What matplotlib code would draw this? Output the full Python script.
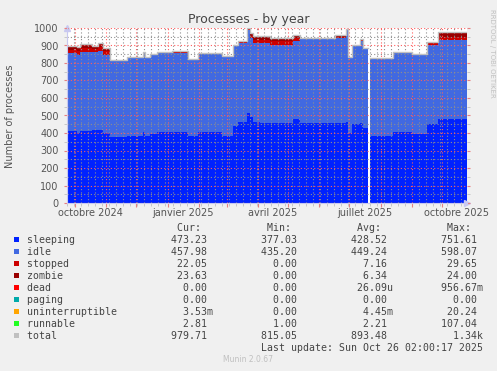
import numpy as np
import matplotlib
matplotlib.use('Agg')
import matplotlib.pyplot as plt
import matplotlib.dates as mdates
import matplotlib.transforms as mtrans

# ---------------- data ----------------
start_date = '2024-09-23'
end_date = '2025-10-26'
# segment start (days since start_date); each value holds until the next one
seg_day = [0, 10, 13, 25, 31, 36, 43, 46, 60, 73, 76, 78, 83, 90, 104, 120, 130,
           154, 165, 170, 179, 182, 185, 192, 202, 225, 232, 252, 259, 267, 278,
           280, 284, 292, 295, 299, 301, 324, 343, 358, 369]
nan = float('nan')
sleeping = [411, 398, 412, 415, 418, 400, 380, 380, 382, 384, 405, 385, 395, 405, 405,
            382, 405, 385, 440, 465, 516, 490, 465, 459, 459, 480, 459, 459, 459, 459,
            460, 400, 451, 455, 430, nan, 385, 404, 392, 451, 478]
idle = [447, 448, 453, 447, 448, 446, 437, 437, 450, 450, 457, 447, 453, 453, 453,
        438, 450, 451, 455, 451, 474, 450, 447, 453, 444, 447, 482, 476, 482, 482,
        530, 435, 452, 470, 454, nan, 442, 451, 454, 454, 453]
stopped = [18, 20, 20, 18, 24, 20, 0, 0, 0, 0, 0, 0, 0, 0, 2,
           0, 0, 0, 4, 4, 5, 15, 20, 20, 20, 17, 0, 0, 0, 8,
           0, 0, 0, 4, 0, nan, 0, 0, 0, 8, 18]
zombie = [17, 20, 18, 17, 20, 20, 0, 0, 0, 0, 0, 0, 0, 0, 6,
          0, 0, 4, 4, 5, 5, 15, 18, 18, 18, 16, 0, 0, 0, 7,
          0, 0, 0, 4, 0, nan, 0, 0, 3, 7, 22]
dead = [0, 0, 0, 0, 0, 0, 0, 0, 0, 0, 0, 0, 0, 0, 0,
        0, 0, 0, 0, 0, 0, 0, 0, 0, 0, 0, 0, 0, 0, 0,
        0, 0, 0, 0, 0, nan, 0, 0, 0, 0, 0]
paging = [0, 0, 0, 0, 0, 0, 0, 0, 0, 0, 0, 0, 0, 0, 0,
          0, 0, 0, 0, 0, 0, 0, 0, 0, 0, 0, 0, 0, 0, 0,
          0, 0, 0, 0, 0, nan, 0, 0, 0, 0, 0]
uninterruptible = [0, 0, 0, 0, 0, 0, 0, 0, 0, 0, 0, 0, 0, 0, 0,
                   0, 0, 0, 0, 0, 0, 0, 0, 0, 0, 0, 0, 0, 0, 0,
                   0, 0, 0, 0, 0, nan, 0, 0, 0, 0, 0]
runnable = [3, 3, 3, 2, 3, 2, 2, 2, 2, 2, 2, 2, 2, 7, 2,
            2, 2, 2, 2, 2, 2, 2, 2, 2, 2, 2, 2, 6, 2, 2,
            2, 2, 2, 2, 2, nan, 2, 5, 2, 2, 6]

series_names = ['sleeping', 'idle', 'stopped', 'zombie', 'dead', 'paging',
                'uninterruptible', 'runnable', 'total']
series_colors = ['#0022ff', '#4169e1', '#cc0000', '#990000', '#ff0000', '#00aaaa',
                 '#ffa500', '#22ff22', '#c0c0c0']
cur_vals = ['473.23 ', '457.98 ', ' 22.05 ', ' 23.63 ', '  0.00 ', '  0.00 ', '  3.53m', '  2.81 ', '979.71 ']
min_vals = ['377.03 ', '435.20 ', '  0.00 ', '  0.00 ', '  0.00 ', '  0.00 ', '  0.00 ', '  1.00 ', '815.05 ']
avg_vals = ['428.52 ', '449.24 ', '  7.16 ', '  6.34 ', ' 26.09u', '  0.00 ', '  4.45m', '  2.21 ', '893.48 ']
max_vals = ['751.61 ', '598.07 ', ' 29.65 ', ' 24.00 ', '956.67m', '  0.00 ', ' 20.24 ', '107.04 ', '  1.34k']
month_labels = ['octobre 2024', 'janvier 2025', 'avril 2025', 'juillet 2025', 'octobre 2025']
month_label_dates = ['2024-10-16', '2025-01-16', '2025-04-16', '2025-07-16', '2025-10-16']

# ---------------- figure ----------------
W, H = 497, 371
fig = plt.figure(figsize=(W / 100, H / 100), dpi=100)
fig.patch.set_facecolor('#f0f0f0')
L, R, T, B = 67, 467, 28, 203
ax = fig.add_axes([L / W, 1 - B / H, (R - L) / W, (B - T) / H])
ax.set_facecolor('white')

t0 = np.datetime64(start_date)
bp = list(seg_day) + [int((np.datetime64(end_date) - t0) / np.timedelta64(1, 'D'))]
xs = []
for i in range(len(seg_day)):
    xs += [bp[i], bp[i + 1]]
xdates = mdates.date2num(t0 + np.array(xs).astype('timedelta64[D]'))

def stepvals(v):
    out = []
    for a in v:
        out += [a, a]
    return np.array(out, dtype=float)

stack = [sleeping, idle, stopped, zombie, dead, paging, uninterruptible, runnable]
base = np.zeros(len(xs))
for vals, col in zip(stack, series_colors[:8]):
    v = stepvals(vals)
    top = base + v
    ax.fill_between(xdates, base, top, color=col, linewidth=0, zorder=2)
    base = top
ax.plot(xdates, base, color='#c0c0c0', lw=1.0, zorder=3)

ax.set_xlim(mdates.date2num(t0), mdates.date2num(np.datetime64(end_date)))
ax.set_ylim(0, 1000)

# grid
major_c = (1.0, 0.37, 0.37, 0.40)
minor_c = (0.56, 0.56, 0.56, 0.30)
ax.xaxis.set_major_locator(mdates.MonthLocator())
ax.xaxis.set_minor_locator(mdates.WeekdayLocator(byweekday=mdates.MO))
ax.xaxis.set_major_formatter(plt.NullFormatter())
ax.set_yticks(np.arange(0, 1001, 100))
ax.set_yticks(np.arange(50, 1000, 100), minor=True)
ax.grid(True, which='minor', color=minor_c, linestyle=(0, (1, 2)), linewidth=0.8, zorder=4)
ax.grid(True, which='major', color=major_c, linestyle=(0, (1, 2)), linewidth=0.8, zorder=4)
ax.set_axisbelow(False)
ax.tick_params(axis='x', which='major', length=3, color='#e88080', width=0.8, direction='out')
ax.tick_params(axis='x', which='minor', length=2, color='#c0c0c0', width=0.6, direction='out')
ax.tick_params(axis='y', which='major', length=2, color='#e88080', width=0.8, direction='out',
               right=True, labelsize=7, labelcolor='#555555', pad=4)
ax.tick_params(axis='y', which='minor', length=2, color='#c0c0c0', width=0.6, direction='out', right=True)
for s in ['top', 'right']:
    ax.spines[s].set_visible(False)
for s in ['left', 'bottom']:
    ax.spines[s].set_color('#c8c8f0')
    ax.spines[s].set_linewidth(0.8)
    ax.spines[s].set_zorder(5)

ax.plot([0], [1.0], marker='^', color='#c8c8f0', markersize=5, transform=ax.transAxes, clip_on=False)
ax.plot([1.0], [0], marker='>', color='#c8c8f0', markersize=5, transform=ax.transAxes, clip_on=False)

bt = mtrans.blended_transform_factory(ax.transData, fig.transFigure)
for lab, d in zip(month_labels, month_label_dates):
    ax.text(mdates.date2num(np.datetime64(d)), 1 - 213 / H, lab, transform=bt,
            ha='center', va='center', fontsize=7, color='#555555')

def ftxt(x, y, s, **kw):
    fig.text(x / W, 1 - y / H, s, **kw)

ftxt(W / 2, 20, 'Processes - by year', ha='center', va='center', fontsize=9, color='#444444')
ftxt(10, 116, 'Number of processes', ha='center', va='center', rotation=90, fontsize=7, color='#555555')
ftxt(492, 53, 'RRDTOOL / TOBI OETIKER', ha='center', va='center', rotation=270, fontsize=5, color='#c0c0c0')

mono = dict(family='DejaVu Sans Mono', fontsize=7.1, color='#444444', va='center', ha='left')
hdr = ' ' * 25 + 'Cur:' + ' ' * 11 + 'Min:' + ' ' * 11 + 'Avg:' + ' ' * 11 + 'Max:'
ftxt(27, 228.3, hdr, **mono)
for i, name in enumerate(series_names):
    y = 239.7 + 12 * i
    line = f'{name:<24}' + cur_vals[i] + ' ' * 8 + min_vals[i] + ' ' * 8 + avg_vals[i] + ' ' * 8 + max_vals[i]
    ftxt(27, y, line, **mono)
    fig.patches.append(plt.Rectangle((14 / W, 1 - (y + 2.7) / H), 5.3 / W, 5.4 / H,
                                     transform=fig.transFigure, facecolor=series_colors[i],
                                     edgecolor='none', figure=fig))
ftxt(27, 347.7, ' ' * 39 + 'Last update: Sun Oct 26 02:00:17 2025', **mono)
ftxt(248, 360, 'Munin 2.0.67', ha='center', va='center', fontsize=5.5, color='#c0c0c0')

fig.savefig('out.png', dpi=100, facecolor=fig.get_facecolor())
